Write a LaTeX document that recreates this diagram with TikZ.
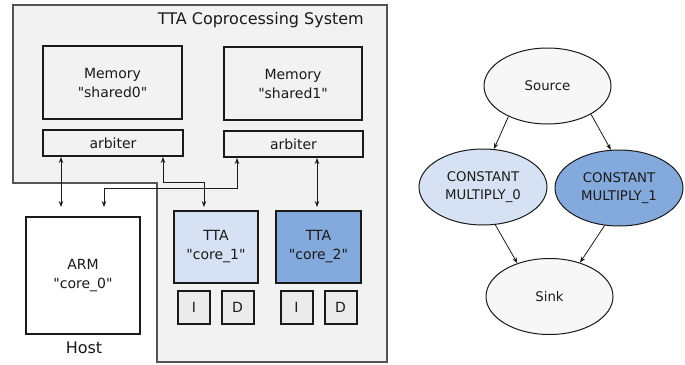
\documentclass[tikz,border=0pt]{standalone}
\usepackage{fontspec}
\newfontfamily\dv{DejaVu Sans}
\setmainfont{DejaVu Sans}
\usetikzlibrary{shapes.geometric,arrows.meta}
\definecolor{panel}{HTML}{F2F2F2}
\definecolor{panelline}{HTML}{555555}
\definecolor{cachefill}{HTML}{EBEBEB}
\definecolor{lightblue}{HTML}{D6E2F4}
\definecolor{midblue}{HTML}{84A9DC}
\definecolor{nodegray}{HTML}{F7F7F7}
\definecolor{ink}{HTML}{1A1A1A}
\tikzset{
  box/.style={draw=ink, line width=2pt, rectangle, inner sep=0pt, align=center,
    font=\dv\fontsize{14}{19}\selectfont, text=ink},
  cache/.style={box, fill=cachefill, minimum width=32pt, minimum height=33pt},
  link/.style={draw=ink, line width=0.9pt, {Stealth[length=6pt,width=4.5pt]}-{Stealth[length=6pt,width=4.5pt]}},
  gnode/.style={draw=ink, line width=1pt, ellipse, inner sep=0pt, minimum width=127pt,
    minimum height=76pt, align=center, font=\dv\fontsize{13.3}{18}\selectfont, text=ink},
  garr/.style={draw=ink, line width=0.8pt, -{Stealth[length=6pt,width=4.5pt]}},
  lbl/.style={inner sep=0pt, font=\dv\fontsize{16}{19}\selectfont, text=ink}
}
\begin{document}
\begin{tikzpicture}[x=1pt,y=-1pt]
\useasboundingbox (0,0) rectangle (685,364);
% coprocessing panel
\fill[panel, draw=panelline, line width=1.3pt]
  (13,5) -- (387,5) -- (387,362) -- (157,362) -- (157,183) -- (13,183) -- cycle;
\node[lbl, anchor=east] (title) at (364,20) {TTA Coprocessing System};
% memories and arbiters
\node[box, fill=panel, minimum width=139pt, minimum height=73pt] (mem0) at (112.5,82.5) {Memory\\"shared0"};
\node[box, fill=panel, minimum width=138pt, minimum height=73pt] (mem1) at (293,83.5) {Memory\\"shared1"};
\node[box, fill=panel, minimum width=140pt, minimum height=26pt] (arb0) at (113,143) {arbiter};
\node[box, fill=panel, minimum width=139pt, minimum height=26pt] (arb1) at (293.5,144) {arbiter};
% host
\node[box, fill=white, minimum width=114pt, minimum height=117pt] (arm) at (83,275.5) {ARM\\"core\_0"};
\node[lbl] (host) at (84,348) {Host};
% TTA cores
\node[box, fill=lightblue, minimum width=84pt, minimum height=72pt] (core1) at (216,247) {TTA\\"core\_1"};
\node[box, fill=midblue, minimum width=85pt, minimum height=72pt] (core2) at (318.5,247) {TTA\\"core\_2"};
\node[cache] (i1) at (194,307.5) {I};
\node[cache] (d1) at (237.5,307.5) {D};
\node[cache] (i2) at (296.5,307.5) {I};
\node[cache] (d2) at (340.5,307.5) {D};
% connectors
\coordinate (x61) at (61,0);
\coordinate (x317) at (317,0);
\coordinate (b1) at (163,182);
\coordinate (b2) at (204,182);
\coordinate (c1) at (237,188);
\coordinate (c2) at (104,188);
\draw[link, shorten >=9pt] (arb0.south -| x61) -- (arm.north -| x61);
\draw[link, shorten >=3pt] (arb0.south -| b1) -- (b1) -- (b2) -- (core1.north -| b2);
\draw[link, shorten >=9pt] (arb1.south -| c1) -- (c1) -- (c2) -- (arm.north -| c2);
\draw[link, shorten >=3pt] (arb1.south -| x317) -- (core2.north -| x317);
% task graph
\node[gnode, fill=nodegray] (src) at (547.5,86) {Source};
\node[gnode, fill=lightblue, minimum width=128pt] (cm0) at (483,187) {CONSTANT\\MULTIPLY\_0};
\node[gnode, fill=midblue, minimum width=128pt] (cm1) at (619,188) {CONSTANT\\MULTIPLY\_1};
\node[gnode, fill=nodegray] (sink) at (549.5,296.5) {Sink};
\draw[garr] (src.218) -- (cm0.74);
\draw[garr] (src.-33) -- (cm1.102);
\draw[garr] (cm0.-72) -- (sink.134);
\draw[garr] (cm1.-111) -- (sink.48);
\end{tikzpicture}
\end{document}
